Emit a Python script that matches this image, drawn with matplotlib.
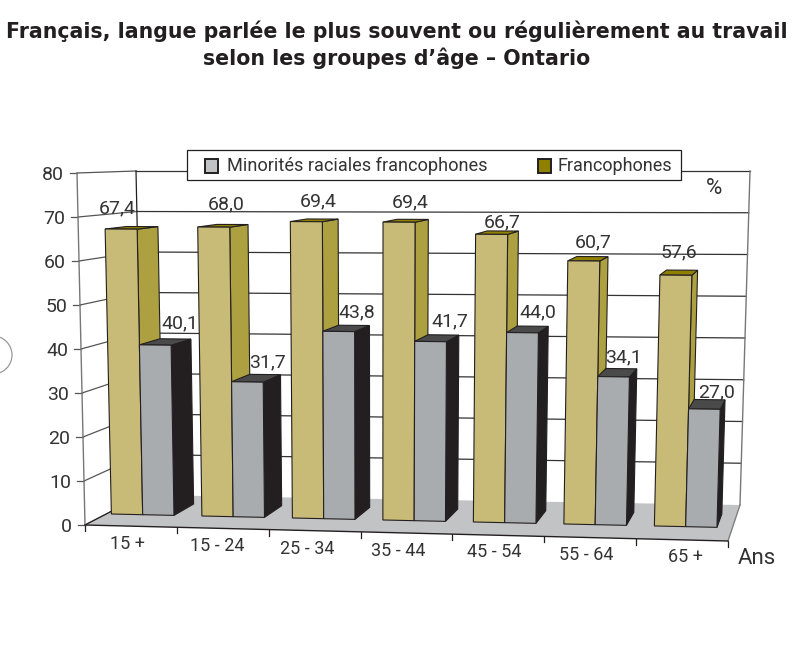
#!/usr/bin/env python3
"""Francais au travail, barres en perspective"""

import matplotlib
matplotlib.use("Agg")
import matplotlib.pyplot as plt
from matplotlib.patches import Polygon, Rectangle, Circle

categories = ['15 +', '15 - 24', '25 - 34', '35 - 44', '45 - 54', '55 - 64', '65 +']
francophones = [67.4, 68.0, 69.4, 69.4, 66.7, 60.7, 57.6]
minorites = [40.1, 31.7, 43.8, 41.7, 44.0, 34.1, 27.0]
y_ticks = [0, 10, 20, 30, 40, 50, 60, 70, 80]

# label nudges in pixels, from the bar top
fr_nudge = [(-4, -21), (12, -23), (12, -20), (11, -20), (11, -12), (9, -19), (3, -23)]
mi_nudge = [(25, -22), (20, -20), (18, -19), (19, -20), (15, -20), (10, -19), (12, -17)]
cat_nudge = [(-3, 18), (-6, 18), (-7, 18), (-8, 18), (-4, 17), (-4, 17), (3, 17)]

# Box corners in pixels: (front/back, left/right, bottom/top)
FLB, FLT = (85, 525), (77, 173)
FRB, FRT = (728, 541), (738, 176)
BLB, BLT = (143, 495), (136, 171)
BRB, BRT = (740, 505), (750, 171)
Y_MAX = 80.0

INK = '#231F20'
TEXT = '#333333'
GOLD = {'front': '#C8BA77', 'side': '#ADA040', 'top': '#8F8000'}
GREY = {'front': '#A9ACAF', 'side': '#231F20', 'top': '#4A4A4A'}

plt.rcParams['font.family'] = ['Roboto', 'DejaVu Sans']

# bars sit a bit nearer the back wall than the trilinear box gives
BAR_SCALE = 0.99


def mix(a, b, t):
    return (a[0] + (b[0] - a[0]) * t, a[1] + (b[1] - a[1]) * t)


def project(u, v, value):
    """u along the categories, v into the depth, value up the axis"""
    w = value / Y_MAX
    front = mix(mix(FLB, FRB, u), mix(FLT, FRT, u), w)
    back = mix(mix(BLB, BRB, u), mix(BLT, BRT, u), w)
    return mix(front, back, v)


def draw_bar(ax, u0, u1, v0, v1, value, colors):
    h = value * BAR_SCALE
    side = [project(u1, v0, 0), project(u1, v1, 0), project(u1, v1, h), project(u1, v0, h)]
    top = [project(u0, v0, h), project(u1, v0, h), project(u1, v1, h), project(u0, v1, h)]
    front = [project(u0, v0, 0), project(u1, v0, 0), project(u1, v0, h), project(u0, v0, h)]
    for pts, key in ((side, 'side'), (top, 'top'), (front, 'front')):
        ax.add_patch(Polygon(pts, closed=True, facecolor=colors[key], edgecolor=INK, linewidth=0.8, zorder=3))


fig = plt.figure(figsize=(8.04, 6.49), dpi=100)
ax = fig.add_axes([0, 0, 1, 1])
ax.set_xlim(0, 804)
ax.set_ylim(649, 0)
ax.axis('off')

# Floor
ax.add_patch(Polygon([FLB, FRB, BRB, BLB], closed=True, facecolor='#C2C3C5', edgecolor='none', zorder=2.5))
ax.plot(*zip(FRB, BRB), color='#808080', lw=1, zorder=2.6)
ax.plot(*zip(FLB, BLB), color=INK, lw=0.9, zorder=2.6)

# Walls
for val in y_ticks:
    p0, p1, p2 = project(0, 0, val), project(0, 1, val), project(1, 1, val)
    ax.plot(*zip(p0, p1), color='#555555', lw=0.9)
    if val > 0:
        ax.plot(*zip(p1, p2), color='#333333', lw=0.9)
    ax.plot([p0[0] - 7, p0[0]], [p0[1], p0[1]], color='#555555', lw=0.9)
    ax.text(p0[0] - 13, p0[1] + 1.5, str(val), ha='right', va='center', fontsize=14, color=TEXT)
ax.plot(*zip(FLB, FLT), color='#777777', lw=1, zorder=2.7)
ax.plot(*zip(BLB, BLT), color=INK, lw=0.9)
ax.plot(*zip(BRB, BRT), color='#777777', lw=1)
ax.plot(*zip(FLB, FRB), color=INK, lw=1, zorder=2.7)

# Category ticks and labels
n = len(categories)
for i in range(n + 1):
    x, y = project(i / n, 0, 0)
    ax.plot([x, x], [y, y + 6], color=INK, lw=0.9)
for i, cat in enumerate(categories):
    x, y = project((i + 0.5) / n, 0, 0)
    ax.text(x + cat_nudge[i][0], y + cat_nudge[i][1], cat, ha='center', va='center', fontsize=13, color=TEXT)

# Bars
margin = 0.055
bar_w = 0.35
spacing = 1.012
v0, v1 = 0.37, 0.74
for i in range(n):
    a = (i * spacing + margin) / n
    b = (i * spacing + margin + bar_w) / n
    c = (i * spacing + margin + 2 * bar_w) / n
    draw_bar(ax, a, b, v0, v1, francophones[i], GOLD)
    draw_bar(ax, b, c, v0, v1, minorites[i], GREY)

    x, y = project((a + b) / 2, v0, francophones[i] * BAR_SCALE)
    ax.text(x + fr_nudge[i][0], y + fr_nudge[i][1], f'{francophones[i]:.1f}'.replace('.', ','),
            ha='center', va='center', fontsize=14, color=TEXT, zorder=4)
    x, y = project((b + c) / 2, v0, minorites[i] * BAR_SCALE)
    ax.text(x + mi_nudge[i][0], y + mi_nudge[i][1], f'{minorites[i]:.1f}'.replace('.', ','),
            ha='center', va='center', fontsize=14, color=TEXT, zorder=4)

# Legend
ax.add_patch(Rectangle((187, 150), 494, 30, facecolor='white', edgecolor=INK, linewidth=0.9, zorder=5))
ax.add_patch(Rectangle((205, 159), 13, 14, facecolor='#C0C2C4', edgecolor=INK, linewidth=1.4, zorder=6))
ax.text(227, 166, 'Minorités raciales francophones', va='center', fontsize=13.1, color=TEXT, zorder=6)
ax.add_patch(Rectangle((538, 159), 13, 14, facecolor=GOLD['top'], edgecolor=INK, linewidth=1.4, zorder=6))
ax.text(558, 166, 'Francophones', va='center', fontsize=13, color=TEXT, zorder=6)

ax.text(714, 189, '%', ha='center', va='center', fontsize=16, color=TEXT)
ax.text(757, 558, 'Ans', ha='center', va='center', fontsize=16, color=TEXT)

# Title
ax.text(397, 31, 'Français, langue parlée le plus souvent ou régulièrement au travail',
        ha='center', va='center', fontsize=14.8, fontweight='bold', family=['DejaVu Sans'], color=INK)
ax.text(397, 58, "selon les groupes d’âge – Ontario",
        ha='center', va='center', fontsize=14.8, fontweight='bold', family=['DejaVu Sans'], color=INK)

# Page number circle cut by the page edge
ax.add_patch(Circle((-7, 355), 19, facecolor='none', edgecolor='#999999', linewidth=0.9))

fig.savefig('out.png', dpi=100)
plt.close(fig)
